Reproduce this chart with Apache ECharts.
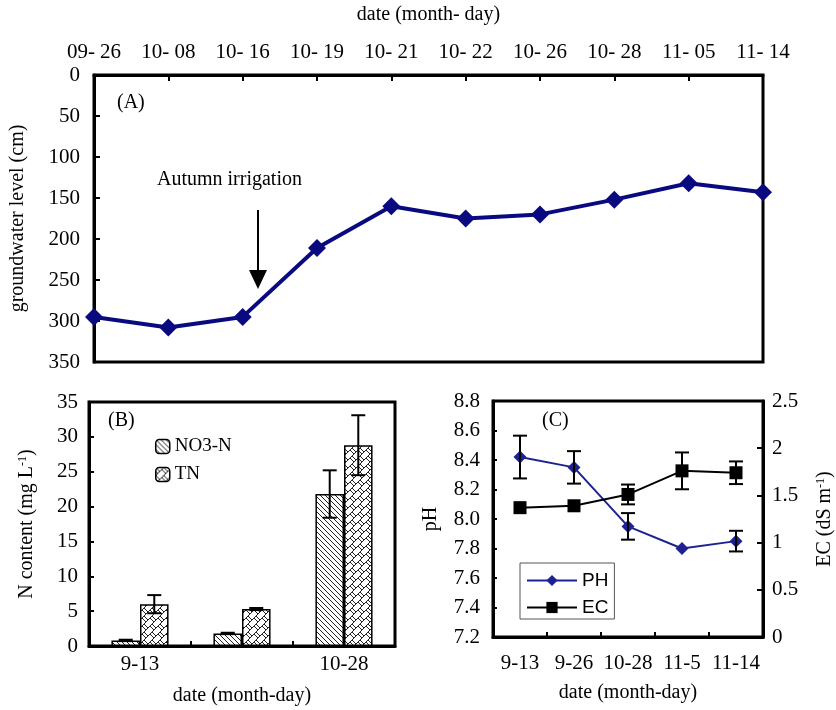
<!DOCTYPE html>
<html><head><meta charset="utf-8">
<script src="https://cdn.jsdelivr.net/npm/echarts@6/dist/echarts.min.js"></script>
<style>html,body{margin:0;padding:0;background:#fff}#c{width:836px;height:710px}</style>
</head><body><div id="c"></div>
<script>
// ---- Panel A data ----
const datesA = ['09- 26','10- 08','10- 16','10- 19','10- 21','10- 22','10- 26','10- 28','11- 05','11- 14'];
const groundwaterLevel = [295, 308, 295, 211, 160, 175, 170, 152, 132, 143];
// ---- Panel B data ----
const datesB = ['9-13', '', '10-28'];
const no3N = [0.8, 1.8, 21.8];
const no3NErr = [0.1, 0.1, 3.4];
const totalN = [6.0, 5.3, 28.8];
const totalNErr = [1.3, 0.15, 4.3];
// ---- Panel C data ----
const datesC = ['9-13', '9-26', '10-28', '11-5', '11-14'];
const pHValues = [8.42, 8.35, 7.95, 7.80, 7.85];
const pHErr = [0.145, 0.11, 0.09, 0, 0.07];
const ecValues = [1.37, 1.39, 1.51, 1.76, 1.74];
const ecErr = [0, 0, 0.105, 0.195, 0.12];

const SERIF = '"Liberation Serif","Times New Roman",serif';
const SANS = '"Liberation Sans",Arial,sans-serif';

function makeHatch() {
  const s = 5, c = document.createElement('canvas');
  c.width = s; c.height = s;
  const g = c.getContext('2d');
  g.fillStyle = '#fff'; g.fillRect(0, 0, s, s);
  g.strokeStyle = '#222'; g.lineWidth = 1;
  for (let k = -1; k <= 1; k++) {
    g.beginPath(); g.moveTo(-s, -s + k * s); g.lineTo(2 * s, 2 * s + k * s); g.stroke();
  }
  return c;
}
function makeBrick() {
  const s = 8, c = document.createElement('canvas');
  c.width = s; c.height = s;
  const g = c.getContext('2d');
  g.fillStyle = '#fff'; g.fillRect(0, 0, s, s);
  g.strokeStyle = '#222'; g.lineWidth = 1;
  g.beginPath(); g.moveTo(-1, s + 1); g.lineTo(s + 1, -1); g.stroke();
  g.beginPath(); g.moveTo(0, 0); g.lineTo(4, 4); g.stroke();
  g.beginPath(); g.moveTo(6, 2); g.lineTo(10, 6); g.stroke();
  g.beginPath(); g.moveTo(-2, 2); g.lineTo(2, 6); g.stroke();
  return c;
}

function errorBar(offsetFrac, capHalf) {
  return function (params, api) {
    const i = api.value(0), lo = api.value(1), hi = api.value(2);
    const band = api.size([1, 0])[0];
    const p1 = api.coord([i, lo]), p2 = api.coord([i, hi]);
    const x = p1[0] + band * offsetFrac;
    const style = { stroke: '#000', lineWidth: 2 };
    return { type: 'group', children: [
      { type: 'line', shape: { x1: x, y1: p1[1], x2: x, y2: p2[1] }, style },
      { type: 'line', shape: { x1: x - capHalf, y1: p1[1], x2: x + capHalf, y2: p1[1] }, style },
      { type: 'line', shape: { x1: x - capHalf, y1: p2[1], x2: x + capHalf, y2: p2[1] }, style }
    ] };
  };
}
function errData(vals, errs) {
  const out = [];
  vals.forEach((v, i) => { if (errs[i] > 0) out.push([i, v - errs[i], v + errs[i]]); });
  return out;
}

const axisLab = { color: '#000', fontFamily: SERIF, fontSize: 21, interval: 0 };
const nameStyle = { color: '#000', fontFamily: SERIF, fontSize: 20 };
const frame = { show: true, lineStyle: { color: '#000', width: 3 } };
const tickIn = (len) => ({ show: true, inside: true, length: len, lineStyle: { color: '#000', width: 2 } });

const chart = echarts.init(document.getElementById('c'), null, { renderer: 'canvas' });
chart.setOption({
  backgroundColor: '#fff',
  animation: false,
  grid: [
    { left: 93, top: 75, width: 670, height: 287, show: true, borderColor: '#000', borderWidth: 3 },
    { left: 89, top: 402, width: 306, height: 244, show: true, borderColor: '#000', borderWidth: 3 },
    { left: 493, top: 401, width: 270, height: 236, show: true, borderColor: '#000', borderWidth: 3 }
  ],
  xAxis: [
    { gridIndex: 0, type: 'category', data: datesA, position: 'top', boundaryGap: false,
      axisLine: frame, axisTick: tickIn(6), axisLabel: Object.assign({ margin: 12 }, axisLab),
      name: 'date (month- day)', nameLocation: 'middle', nameGap: 50, nameTextStyle: nameStyle },
    { gridIndex: 1, type: 'category', data: datesB,
      axisLine: frame, axisTick: tickIn(5), axisLabel: Object.assign({ margin: 8 }, axisLab),
      name: 'date (month-day)', nameLocation: 'middle', nameGap: 40, nameTextStyle: nameStyle },
    { gridIndex: 2, type: 'category', data: datesC,
      axisLine: frame, axisTick: tickIn(5), axisLabel: Object.assign({ margin: 16 }, axisLab),
      name: 'date (month-day)', nameLocation: 'middle', nameGap: 46, nameTextStyle: nameStyle }
  ],
  yAxis: [
    { gridIndex: 0, type: 'value', inverse: true, min: 0, max: 350, interval: 50,
      axisLine: frame, axisTick: tickIn(6), splitLine: { show: false },
      axisLabel: Object.assign({ margin: 14 }, axisLab),
      name: 'groundwater level (cm)', nameLocation: 'middle', nameRotate: 90, nameGap: 66, nameTextStyle: nameStyle },
    { gridIndex: 1, type: 'value', min: 0, max: 35, interval: 5,
      axisLine: frame, axisTick: tickIn(5), splitLine: { show: false },
      axisLabel: Object.assign({ margin: 11 }, axisLab),
      name: 'N content (mg L{sup|-1})', nameLocation: 'middle', nameRotate: 90, nameGap: 52,
      nameTextStyle: Object.assign({ rich: { sup: { fontFamily: SERIF, fontSize: 12, verticalAlign: 'top', color: '#000' } } }, nameStyle) },
    { gridIndex: 2, type: 'value', min: 7.2, max: 8.8, interval: 0.2,
      axisLine: frame, axisTick: tickIn(4), splitLine: { show: false },
      axisLabel: Object.assign({ margin: 13, formatter: v => v.toFixed(1) }, axisLab),
      name: 'pH', nameLocation: 'middle', nameRotate: 90, nameGap: 52, nameTextStyle: nameStyle },
    { gridIndex: 2, type: 'value', position: 'right', min: 0, max: 2.5, interval: 0.5,
      axisLine: frame, axisTick: tickIn(6), splitLine: { show: false },
      axisLabel: Object.assign({ margin: 9 }, axisLab),
      name: 'EC (dS m{sup|-1})', nameLocation: 'middle', nameRotate: 90, nameGap: 52,
      nameTextStyle: Object.assign({ rich: { sup: { fontFamily: SERIF, fontSize: 12, verticalAlign: 'top', color: '#000' } } }, nameStyle) }
  ],
  legend: [
    { data: ['NO3-N', 'TN'], left: 150, top: 432, orient: 'vertical', itemWidth: 14, itemHeight: 14, itemGap: 9,
      textStyle: { color: '#000', fontFamily: SERIF, fontSize: 19 }, itemStyle: { borderColor: '#000', borderWidth: 1.5 } },
    { data: ['PH', 'EC'], left: 520, top: 563, orient: 'vertical', itemWidth: 50, itemHeight: 14, itemGap: 8,
      borderColor: '#555', borderWidth: 1, padding: [8, 6, 2, 6],
      textStyle: { color: '#000', fontFamily: SANS, fontSize: 19 } }
  ],
  series: [
    { type: 'line', xAxisIndex: 0, yAxisIndex: 0, data: groundwaterLevel, symbol: 'diamond', symbolSize: 18,
      lineStyle: { color: '#0a0a80', width: 4 }, itemStyle: { color: '#0a0a80' } },
    { name: 'NO3-N', type: 'bar', xAxisIndex: 1, yAxisIndex: 1, data: no3N, barWidth: '28%', barGap: '0%',
      itemStyle: { color: { image: makeHatch(), repeat: 'repeat' }, borderColor: '#000', borderWidth: 1.5 } },
    { name: 'TN', type: 'bar', xAxisIndex: 1, yAxisIndex: 1, data: totalN, barWidth: '28%', barGap: '0%',
      itemStyle: { color: { image: makeBrick(), repeat: 'repeat' }, borderColor: '#000', borderWidth: 1.5 } },
    { type: 'custom', xAxisIndex: 1, yAxisIndex: 1, renderItem: errorBar(-0.14, 7), data: errData(no3N, no3NErr), z: 5, encode: { x: 0, y: [1, 2] } },
    { type: 'custom', xAxisIndex: 1, yAxisIndex: 1, renderItem: errorBar(0.14, 7), data: errData(totalN, totalNErr), z: 5, encode: { x: 0, y: [1, 2] } },
    { name: 'PH', type: 'line', xAxisIndex: 2, yAxisIndex: 2, data: pHValues, symbol: 'diamond', symbolSize: 13,
      lineStyle: { color: '#1c2390', width: 2 }, itemStyle: { color: '#1c2390' } },
    { name: 'EC', type: 'line', xAxisIndex: 2, yAxisIndex: 3, data: ecValues, symbol: 'rect', symbolSize: 13,
      lineStyle: { color: '#000', width: 2 }, itemStyle: { color: '#000' } },
    { type: 'custom', xAxisIndex: 2, yAxisIndex: 2, renderItem: errorBar(0, 7), data: errData(pHValues, pHErr), z: 5, encode: { x: 0, y: [1, 2] } },
    { type: 'custom', xAxisIndex: 2, yAxisIndex: 3, renderItem: errorBar(0, 7), data: errData(ecValues, ecErr), z: 5, encode: { x: 0, y: [1, 2] } }
  ],
  graphic: [
    { type: 'text', left: 117, top: 93, style: { text: '(A)', fill: '#000', font: '20px ' + SERIF } },
    { type: 'text', left: 108, top: 411, style: { text: '(B)', fill: '#000', font: '20px ' + SERIF } },
    { type: 'text', left: 542, top: 411, style: { text: '(C)', fill: '#000', font: '20px ' + SERIF } },
    { type: 'text', left: 157, top: 170, style: { text: 'Autumn irrigation', fill: '#000', font: '20px ' + SERIF } },
    { type: 'line', shape: { x1: 258, y1: 210, x2: 258, y2: 272 }, style: { stroke: '#000', lineWidth: 2 } },
    { type: 'polygon', shape: { points: [[249, 270], [267, 270], [258, 289]] }, style: { fill: '#000' } }
  ]
});
</script></body></html>
